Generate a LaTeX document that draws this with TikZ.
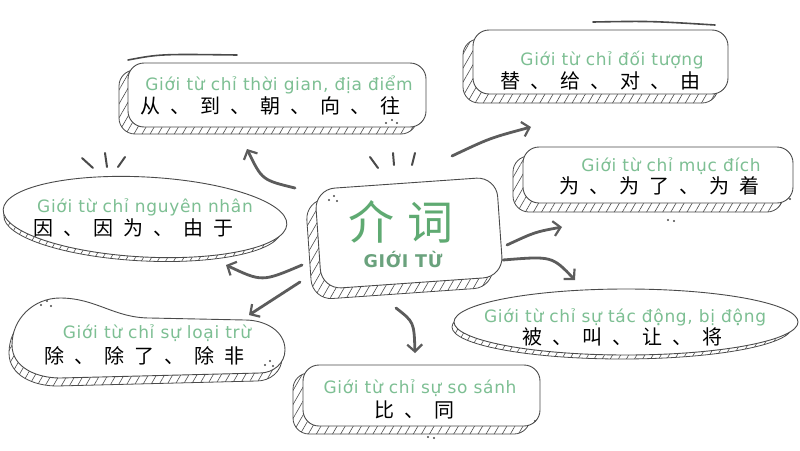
\documentclass[tikz,border=0pt]{standalone}
\usepackage{fontspec}
\setmainfont{DejaVu Sans}
\newfontfamily\viet[LetterSpace=4]{DejaVu Sans}
\newfontfamily\cjk[LetterSpace=50]{Noto Sans CJK SC}
\newfontfamily\cjktitle[LetterSpace=30]{Noto Sans CJK SC}
\usepackage{tikz}
\usetikzlibrary{arrows.meta}
\usetikzlibrary{patterns.meta}
\usetikzlibrary{positioning}
\definecolor{ink}{HTML}{4A4A4A}
\definecolor{leaf}{HTML}{7DBF93}
\definecolor{leafdark}{HTML}{5FAA72}
\newcommand{\spark}[3]{\fill[ink] (#1,#2) circle (#3)}

\begin{document}
\begin{tikzpicture}[
x=1pt,y=-1pt,
Cards/.style={draw=ink,fill=white,line width=0.9pt},
Hatches/.style={draw=ink,line width=0.8pt,pattern={Lines[angle=60,distance=7pt,line width=0.6pt]},pattern color=ink},
Arrows/.style={draw=ink!90,line width=2.8pt,line cap=round,-{Straight Barb[length=7pt,width=15pt,line width=2.2pt]}},
Ticks/.style={draw=ink,line width=2pt,line cap=round},
Strokes/.style={draw=ink,line width=1.6pt,line cap=round},
Label/.style={text=leaf,font=\viet\fontsize{17}{19}\selectfont},
Hanzi/.style={font=\cjk\fontsize{20}{22}\selectfont}
]
\useasboundingbox (0,0) rectangle (800,450);

% top left card
\draw[Hatches,rounded corners=16pt] (119,70) rectangle (417,134);
\draw[Cards,rounded corners=16pt] (128,63) rectangle (426,127);
\draw[Strokes] (128,60) .. controls (160,54) .. (237,55);
\node[Label] (timeL) at (279,85) {Giới từ chỉ thời gian, địa điểm};
\node[Hanzi] (timeH) at (270,106) {从、到、朝、向、往};
\spark{386}{123}{1.2}; \spark{392}{120}{1.2}; \spark{397}{123}{1.2};

% top right card
\draw[Hatches,rounded corners=16pt] (463,39) rectangle (718,103);
\draw[Cards,rounded corners=16pt] (473,30) rectangle (728,94);
\draw[Strokes] (593,22) .. controls (650,21) .. (715,25);
\node[Label] (objL) at (612,60) {Giới từ chỉ đối tượng};
\node[Hanzi] (objH) at (600,81) {替、给、对、由};

% left ellipse
\draw[Hatches,rotate around={-3:(145,217)}] (143,223) ellipse [x radius=139, y radius=38];
\draw[Cards,rotate around={-3:(145,217)}] (145,217) ellipse [x radius=142, y radius=40];
\node[Label] (causeL) at (145,207) {Giới từ chỉ nguyên nhân};
\node[Hanzi] (causeH) at (133,228) {因、因为、由于};
\draw[Ticks] (82,158) -- (93,168);
\draw[Ticks] (105,153) -- (107,167);
\draw[Ticks] (125,157) -- (118,167);

% centre card
\begin{scope}[rotate around={4:(409,233)}]
\draw[Hatches,rounded corners=20pt] (308,193) rectangle (490,293);
\draw[Cards,rounded corners=20pt] (318,183) rectangle (500,283);
\end{scope}
\node[text=leafdark,font=\cjktitle\fontsize{46}{50}\selectfont] (title) at (401,222) {介词};
\node[text=leaf!85!black,font=\viet\bfseries\fontsize{17.5}{19}\selectfont] (sub) at (403,260) {GIỚI TỪ};
\spark{329}{200}{1.2}; \spark{334}{196}{1.2}; \spark{337}{201}{1.2};
\draw[Ticks] (370,157) -- (378,168);
\draw[Ticks] (393,153) -- (394,165);
\draw[Ticks] (415,153) -- (412,165);

% right card
\draw[Hatches,rounded corners=16pt] (513,156) rectangle (783,212);
\draw[Cards,rounded corners=16pt] (523,147) rectangle (793,203);
\node[Label] (aimL) at (671,166) {Giới từ chỉ mục đích};
\node[Hanzi] (aimH) at (659,186) {为、为了、为着};
\spark{668}{220}{1.2}; \spark{674}{221}{1.2}; \spark{790}{199}{1.2};

% right ellipse
\draw[Hatches] (622,327) ellipse [x radius=170, y radius=32];
\draw[Cards] (626,322) ellipse [x radius=172, y radius=33];
\node[Label] (passL) at (625,317) {Giới từ chỉ sự tác động, bị động};
\node[Hanzi] (passH) at (622,337) {被、叫、让、将};

% lower left blob
\draw[Hatches] (9,353) to[out=90,in=180] (57,306) to[out=0,in=180] (147,326)
  -- (242,328) to[out=0,in=90] (282,358) to[out=-90,in=0] (257,381) -- (57,386)
  to[out=180,in=-90] (9,353);
\draw[Cards] (12,345) to[out=90,in=180] (60,298) to[out=0,in=180] (150,318)
  -- (245,320) to[out=0,in=90] (285,350) to[out=-90,in=0] (260,373) -- (60,378)
  to[out=180,in=-90] (12,345);
\node[Label] (exclL) at (157,333) {Giới từ chỉ sự loại trừ};
\node[Hanzi] (exclH) at (144,356) {除、除了、除非};
\spark{41}{305}{1.2}; \spark{47}{301}{1.2}; \spark{51}{306}{1.2};
\spark{265}{365}{1.2}; \spark{270}{361}{1.2}; \spark{273}{366}{1.2};

% bottom card
\draw[Hatches,rounded corners=16pt] (293,373) rectangle (530,434);
\draw[Cards,rounded corners=16pt] (303,365) rectangle (540,426);
\node[Label] (compL) at (420,388) {Giới từ chỉ sự so sánh};
\node[Hanzi] (compH) at (414,410) {比、同};
\spark{428}{437}{1.2}; \spark{434}{438}{1.2}; \spark{535}{421}{1.2};

% arrow ends
\coordinate (a1) at (295,188); \coordinate (a2) at (247,149);
\coordinate (b1) at (452,156); \coordinate (b2) at (531,127);
\coordinate (c1) at (507,245); \coordinate (c2) at (562,227);
\coordinate (d1) at (503,260); \coordinate (d2) at (575,280);
\coordinate (e1) at (302,265); \coordinate (e2) at (226,265);
\coordinate (f1) at (300,282); \coordinate (f2) at (249,315);
\coordinate (g1) at (396,308); \coordinate (g2) at (415,353);

\draw[Arrows] (a1) .. controls (262,180) .. (a2);
\draw[Arrows] (b1) .. controls (490,138) .. (b2);
\draw[Arrows] (c1) .. controls (535,232) .. (c2);
\draw[Arrows] (d1) .. controls (552,256) .. (d2);
\draw[Arrows] (e1) .. controls (262,282) .. (e2);
\draw[Arrows] (f1) -- (f2);
\draw[Arrows] (g1) .. controls (414,322) .. (g2);

\end{tikzpicture}
\end{document}
